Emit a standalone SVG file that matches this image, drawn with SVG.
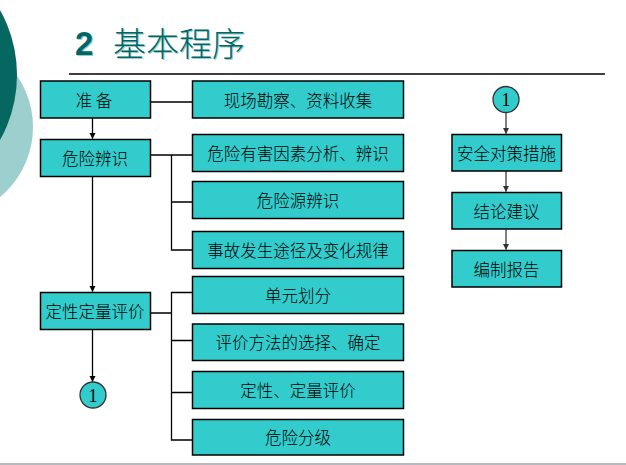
<svg xmlns="http://www.w3.org/2000/svg" width="626" height="465" viewBox="0 0 626 465">
<style>
.box{fill:#33CCCC;stroke:#000;stroke-width:1.5}
.t{font-family:"Noto Sans CJK SC","Noto Sans",sans-serif;font-size:16.5px;font-weight:300;fill:#000;text-anchor:middle;dominant-baseline:central}
.n{font-family:"Liberation Serif",serif;font-size:18px;fill:#000;text-anchor:middle;dominant-baseline:central}
.ln{stroke:#000;stroke-width:1.3;fill:none}
.ga{stroke:#555;stroke-width:1.5;fill:none}
.ttl{font-family:"Noto Sans CJK SC",sans-serif;font-size:33px;font-weight:300}
</style>
<defs>
<marker id="ah" markerWidth="6" markerHeight="8" refX="5.5" refY="3" orient="auto" markerUnits="userSpaceOnUse" viewBox="0 0 6 6">
<path d="M0,0 L6,3 L0,6 Z" fill="#000"/>
</marker>
<marker id="ahg" markerWidth="6" markerHeight="8" refX="5.5" refY="3" orient="auto" markerUnits="userSpaceOnUse" viewBox="0 0 6 6">
<path d="M0,0 L6,3 L0,6 Z" fill="#333"/>
</marker>
</defs>
<rect width="626" height="465" fill="#fff"/>
<g id="decor">
<circle cx="-58" cy="127" r="91" fill="#9DCFCF"/>
<circle cx="-116" cy="75" r="133" fill="#066660"/>
<line x1="0" y1="464" x2="626" y2="464" stroke="#B8B8C0" stroke-width="2"/>
</g>
<g id="title">
<text x="76" y="56" font-family="Liberation Sans,Arial,sans-serif" font-weight="bold" font-size="33" fill="#9CC">2</text>
<text x="75" y="55" font-family="Liberation Sans,Arial,sans-serif" font-weight="bold" font-size="33" fill="#006666">2</text>
<text class="ttl" x="114" y="57" fill="#9CC">基本程序</text>
<text class="ttl" x="113" y="56" fill="#006666">基本程序</text>
<line x1="69" y1="74" x2="605" y2="74" stroke="#000" stroke-width="1.3"/>
</g>
<g id="connectors">
<line class="ln" x1="92.5" y1="118" x2="92.5" y2="138.5" marker-end="url(#ah)"/>
<line class="ln" x1="92.5" y1="176" x2="92.5" y2="291.5" marker-end="url(#ah)"/>
<line class="ln" x1="92.5" y1="329" x2="92.5" y2="381.5" marker-end="url(#ah)"/>
<line class="ln" x1="150.5" y1="102" x2="192" y2="102"/>
<path class="ln" d="M150.5,155 H192 M171.5,155 V250 H192 M171.5,202 H192"/>
<path class="ln" d="M150.5,313 H171.5 M192,292.5 H171.5 V440 H192 M171.5,340.5 H192 M171.5,392.5 H192"/>
<line class="ga" x1="506" y1="112.5" x2="506" y2="133.5" marker-end="url(#ahg)"/>
<line class="ga" x1="506" y1="171" x2="506" y2="191.5" marker-end="url(#ahg)"/>
<line class="ga" x1="506" y1="229.5" x2="506" y2="249.5" marker-end="url(#ahg)"/>
</g>
<g id="n-zhunbei"><rect class="box" x="40.5" y="81" width="110" height="37"/><text class="t" x="94" y="99.5">准 备</text></g>
<g id="n-xianchang"><rect class="box" x="192.5" y="81" width="211" height="37"/><text class="t" x="298" y="99.5">现场勘察、资料收集</text></g>
<g id="n-weixian"><rect class="box" x="40.5" y="139.5" width="110" height="37"/><text class="t" x="95" y="158">危险辨识</text></g>
<g id="n-r1"><rect class="box" x="192.5" y="134.5" width="211" height="37"/><text class="t" x="298" y="153">危险有害因素分析、辨识</text></g>
<g id="n-r2"><rect class="box" x="192.5" y="181.5" width="211" height="37"/><text class="t" x="298" y="200">危险源辨识</text></g>
<g id="n-r3"><rect class="box" x="192.5" y="231.5" width="211" height="37"/><text class="t" x="298" y="250">事故发生途径及变化规律</text></g>
<g id="n-dingxing"><rect class="box" x="40.5" y="292.5" width="110" height="37"/><text class="t" x="95" y="311">定性定量评价</text></g>
<g id="n-r4"><rect class="box" x="192.5" y="276.5" width="211" height="37"/><text class="t" x="298" y="295">单元划分</text></g>
<g id="n-r5"><rect class="box" x="192.5" y="324" width="211" height="36.5"/><text class="t" x="298" y="342">评价方法的选择、确定</text></g>
<g id="n-r6"><rect class="box" x="192.5" y="371.5" width="211" height="37"/><text class="t" x="298" y="390">定性、定量评价</text></g>
<g id="n-r7"><rect class="box" x="192.5" y="419.5" width="211" height="35.5"/><text class="t" x="298" y="437">危险分级</text></g>
<g id="n-c1"><circle cx="93" cy="395" r="13" fill="#33CCCC" stroke="#333" stroke-width="1.3"/><text class="n" x="93" y="395.5">1</text></g>
<g id="n-c2"><circle cx="506" cy="99.5" r="13" fill="#33CCCC" stroke="#333" stroke-width="1.3"/><text class="n" x="506" y="100">1</text></g>
<g id="n-anquan"><rect class="box" x="452" y="134.5" width="109.5" height="36.5"/><text class="t" x="506.5" y="153">安全对策措施</text></g>
<g id="n-jielun"><rect class="box" x="452" y="192.5" width="109.5" height="36.5"/><text class="t" x="506.5" y="211">结论建议</text></g>
<g id="n-bianzhi"><rect class="box" x="452" y="250.5" width="109.5" height="36.5"/><text class="t" x="506.5" y="269">编制报告</text></g>
</svg>
